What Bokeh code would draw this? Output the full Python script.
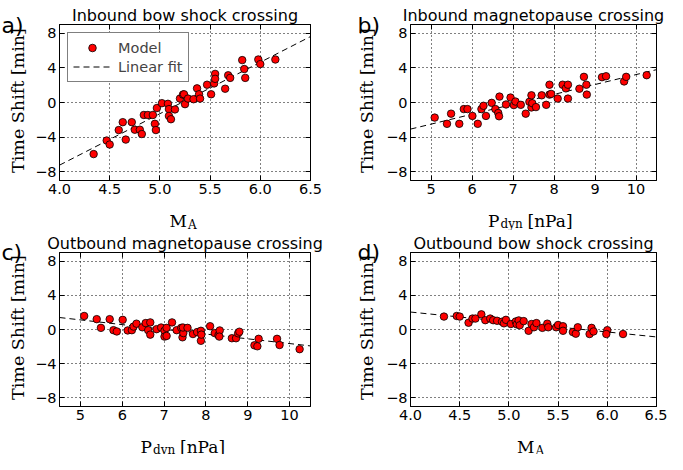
import math
from bokeh.plotting import figure
from bokeh.models import (Range1d, FixedTicker, LinearAxis, Grid, Label, Legend,
                          LegendItem, CustomJSTickFormatter, Title)
from bokeh.layouts import row, column
from bokeh.embed import file_html
from bokeh.resources import INLINE

# ---------------- data ----------------
# a) Inbound bow shock crossing: Alfven Mach number vs time shift
ma_a = [4.34, 4.47, 4.50, 4.59, 4.63, 4.66, 4.72, 4.75, 4.80, 4.82,
        4.84, 4.88, 4.93, 4.95, 4.96, 4.97, 5.02, 5.08, 5.09, 5.09,
        5.11, 5.15, 5.20, 5.23, 5.24, 5.25, 5.28, 5.335, 5.37, 5.39,
        5.40, 5.47, 5.51, 5.54, 5.55, 5.55, 5.65, 5.68, 5.70, 5.82,
        5.84, 5.85, 5.98, 6.00, 6.15]
dt_a = [-5.95, -4.39, -4.85, -3.18, -2.27, -4.28, -2.27, -3.14, -3.14, -3.64,
        -1.44, -1.44, -1.44, -2.46, -3.18, -0.64, -0.08, -0.15, -0.76, -1.55,
        -1.93, -0.80, 0.45, 0.91, 0.95, -0.19, 0.45, 0.38, 1.63, 0.95,
        0.45, 2.05, 0.95, 2.20, 3.30, 2.73, 1.59, 3.14, 2.84, 4.89,
        3.86, 2.84, 4.96, 4.43, 4.96]
fit_a_x = [4.0, 6.5]
fit_a_y = [-7.23, 7.61]

# b) Inbound magnetopause crossing: dynamic pressure vs time shift
pd_b = [5.09, 5.39, 5.49, 5.69, 5.80, 5.89, 6.01, 6.14, 6.23, 6.28,
        6.34, 6.48, 6.57, 6.64, 6.66, 6.67, 6.83, 6.94, 7.02, 7.06,
        7.19, 7.31, 7.40, 7.45, 7.45, 7.47, 7.56, 7.70, 7.81, 7.89,
        7.89, 7.93, 8.09, 8.21, 8.29, 8.34, 8.34, 8.62, 8.73, 8.79,
        8.80, 9.17, 9.27, 9.71, 9.76, 10.26]
dt_b = [-1.74, -2.46, -1.29, -2.46, -0.76, -0.76, -1.55, -2.46, -0.76, -0.38,
        -1.55, -0.04, -0.76, -1.21, -1.59, 0.68, -0.23, 0.57, -0.30, 0.11,
        -0.27, -1.29, 0.08, 0.83, -0.57, -0.08, -0.53, 0.83, -0.27, 2.05,
        0.91, 0.99, 0.45, 2.05, 1.63, 2.05, 0.45, 1.59, 2.96, 2.05,
        0.91, 2.92, 3.03, 2.43, 2.96, 3.15]
fit_b_x = [4.5, 10.5]
fit_b_y = [-3.07, 3.79]

# c) Outbound magnetopause crossing
pd_c = [5.09, 5.39, 5.49, 5.70, 5.79, 5.87, 6.01, 6.13, 6.23, 6.27,
        6.34, 6.48, 6.56, 6.62, 6.67, 6.67, 6.82, 6.93, 7.01, 7.01,
        7.06, 7.06, 7.19, 7.30, 7.41, 7.44, 7.46, 7.45, 7.56, 7.69,
        7.79, 7.88, 7.88, 7.89, 8.10, 8.21, 8.30, 8.33, 8.32, 8.62,
        8.72, 8.77, 8.80, 9.16, 9.23, 9.26, 9.70, 9.76, 10.24]
dt_c = [1.58, 1.21, 0.19, 1.21, -0.08, -0.23, 1.13, -0.11, -0.08, 0.34,
        0.68, 0.26, 0.75, -0.08, 0.83, -0.60, 0.04, 0.23, -0.15, -0.83,
        0.19, -0.75, 0.83, -0.08, 0.19, -0.91, -0.42, 0.23, 0.19, -0.53,
        -0.30, -0.15, -1.32, -0.60, 0.38, -0.42, -0.68, -0.11, -0.83, -1.02,
        -1.02, -0.45, -0.26, -1.85, -1.96, -1.09, -1.09, -1.81, -2.30]
fit_c_x = [4.5, 10.5]
fit_c_y = [1.40, -1.92]

# d) Outbound bow shock crossing
ma_d = [4.34, 4.47, 4.50, 4.59, 4.63, 4.66, 4.72, 4.76, 4.81, 4.84,
        4.88, 4.93, 4.95, 4.97, 5.02, 5.07, 5.08, 5.10, 5.11, 5.15,
        5.20, 5.23, 5.255, 5.28, 5.34, 5.39, 5.40, 5.48, 5.50, 5.55,
        5.55, 5.65, 5.68, 5.70, 5.82, 5.84, 5.86, 6.00, 5.99, 6.16]
dt_d = [1.51, 1.58, 1.51, 0.79, 1.28, 1.28, 1.77, 1.09, 1.28, 1.09,
        1.02, 0.91, 0.72, 1.13, 0.64, 0.94, 0.60, 1.06, 0.49, 0.98,
        -0.15, 0.64, 0.26, 0.75, 0.19, 0.68, 0.26, 0.26, 0.53, 0.38,
        -0.15, -0.30, -0.49, 0.26, -0.53, 0.19, -0.23, -0.08, -0.53, -0.53]
fit_d_x = [4.0, 6.5]
fit_d_y = [2.04, -0.87]

ma_ticks = [4.0, 4.5, 5.0, 5.5, 6.0, 6.5]
ma_tick_labels = ["4.0", "4.5", "5.0", "5.5", "6.0", "6.5"]
pd_ticks = [5, 6, 7, 8, 9, 10]
pd_tick_labels = ["5", "6", "7", "8", "9", "10"]
y_ticks = [-8, -4, 0, 4, 8]
y_tick_labels = ["\u22128", "\u22124", "0", "4", "8"]

titles = ["Inbound bow shock crossing", "Inbound magnetopause crossing",
          "Outbound magnetopause crossing", "Outbound bow shock crossing"]
tags = ["a)", "b)", "c)", "d)"]
y_label = "Time Shift [min]"

SANS = "DejaVu Sans"
SERIF = "DejaVu Serif"
TICK_FS = "14.5px"
TOTAL_W = 667


def strip(w, h):
    s = figure(width=w, height=h, title=None,
               x_range=Range1d(0, w), y_range=Range1d(h, 0),
               min_border=0, min_border_left=0, min_border_right=0,
               min_border_top=0, min_border_bottom=0,
               x_axis_type=None, y_axis_type=None, toolbar_location=None,
               output_backend="svg")
    s.outline_line_color = None
    s.background_fill_color = "white"
    s.border_fill_color = "white"
    return s


def add_label(p, x, y, text, size="15px", font=SANS, align="center",
              baseline="alphabetic", angle=0.0):
    p.add_layout(Label(x=x, y=y, text=text, text_font=font, text_font_size=size,
                       text_color="black", text_align=align,
                       text_baseline=baseline, angle=angle))


def main_fig(xs, ys, fx, fy, xr, xticks, xlabels, title, width, top_h, frame_h,
             mbl, mbr, mbb, legend=False):
    p = figure(width=width, height=top_h + frame_h + mbb,
               x_range=Range1d(xr[0], xr[1]), y_range=Range1d(-9, 9),
               output_backend="svg", toolbar_location=None,
               x_axis_type=None, y_axis_type=None,
               min_border_left=mbl, min_border_right=mbr,
               min_border_top=top_h, min_border_bottom=mbb)
    p.title = Title(text=title, align="center", text_font=SANS,
                    text_font_size="16px", text_font_style="normal",
                    text_color="black", standoff=0, offset=0)
    p.outline_line_color = "black"
    p.outline_line_width = 1
    p.background_fill_color = "white"
    p.border_fill_color = "white"

    xt = FixedTicker(ticks=xticks, minor_ticks=[])
    yt = FixedTicker(ticks=y_ticks, minor_ticks=[])
    common = dict(axis_line_color="black", major_tick_line_color="black",
                  major_tick_in=5, major_tick_out=0, minor_tick_in=0,
                  minor_tick_out=0, major_label_text_font=SANS,
                  major_label_text_color="black")
    below = LinearAxis(ticker=xt, major_label_overrides=dict(zip(xticks, xlabels)),
                       major_label_standoff=3, major_label_text_font_size=TICK_FS,
                       **common)
    left = LinearAxis(ticker=yt, major_label_overrides=dict(zip(y_ticks, y_tick_labels)),
                      major_label_standoff=3, major_label_text_font_size=TICK_FS,
                      **common)
    p.add_layout(below, "below")
    p.add_layout(left, "left")
    above = LinearAxis(ticker=xt, formatter=CustomJSTickFormatter(code="return ''"),
                       major_label_standoff=0, major_label_text_font_size="0px",
                       **common)
    right = LinearAxis(ticker=yt, formatter=CustomJSTickFormatter(code="return ''"),
                       major_label_standoff=0, major_label_text_font_size="0px",
                       **common)
    p.add_layout(above, "above")
    p.add_layout(right, "right")

    gkw = dict(grid_line_color="black", grid_line_dash="1 3", grid_line_width=1)
    p.add_layout(Grid(dimension=0, ticker=xt, **gkw))
    p.add_layout(Grid(dimension=1, ticker=yt, **gkw))

    ln = p.line(fx, fy, line_color="black", line_width=1, line_dash="6 4")
    sc = p.scatter(xs, ys, marker="circle", size=7.5, fill_color="#ff0000",
                   line_color="black", line_width=0.8)

    if legend:
        leg = Legend(items=[LegendItem(label="Model", renderers=[sc]),
                            LegendItem(label="Linear fit", renderers=[ln])],
                     location="top_left", margin=8, padding=5, spacing=0,
                     glyph_width=38, glyph_height=19, label_height=19,
                     label_standoff=7, label_text_font=SANS,
                     label_text_font_size="14.5px",
                     border_line_color="black", border_line_width=1,
                     background_fill_color="white", background_fill_alpha=1)
        p.add_layout(leg)
    return p


def panel(xs, ys, fx, fy, xr, xticks, xlabels, title, tag, legend,
          strip_w, tag_x, ylab_x, mbl, frame_w, mbr, top_h, frame_h, mbb, tag_base):
    main_w = mbl + frame_w + mbr
    total_h = top_h + frame_h + mbb
    ls = strip(strip_w, total_h)
    add_label(ls, tag_x, tag_base, tag, size="22px", align="left")
    add_label(ls, ylab_x, top_h + frame_h / 2.0 - 2, y_label, size="17.5px",
              font=SERIF, baseline="middle", angle=math.pi / 2)
    mf = main_fig(xs, ys, fx, fy, xr, xticks, xlabels, title, main_w, top_h,
                  frame_h, mbl, mbr, mbb, legend=legend)
    return row(ls, column(mf))


def xlabel(s, cx, base, kind):
    if kind == "ma":
        add_label(s, cx + 2, base, "M", size="17px", font=SERIF, align="right")
        add_label(s, cx + 3, base + 4, "A", size="12px", font=SERIF, align="left")
    else:
        add_label(s, cx - 33, base, "P", size="17px", font=SERIF, align="right")
        add_label(s, cx - 32, base + 3, "dyn", size="12px", font=SERIF, align="left")
        add_label(s, cx - 5, base, "[nPa]", size="17px", font=SERIF, align="left")


# horizontal layout: left panel strip 28 + (31 + 251 + 42); right panel strip 31 + (25 + 248 + 11)
left_cx = 28 + 31 + 251 / 2.0
right_cx = 28 + 31 + 251 + 42 + 31 + 25 + 248 / 2.0

pa = panel(ma_a, dt_a, fit_a_x, fit_a_y, (4.0, 6.5), ma_ticks, ma_tick_labels,
           titles[0], tags[0], True, 28, 1, 17, 31, 251, 42, 24, 156, 20, 25)
pb = panel(pd_b, dt_b, fit_b_x, fit_b_y, (4.5, 10.5), pd_ticks, pd_tick_labels,
           titles[1], tags[1], False, 31, 5, 14, 25, 248, 11, 24, 156, 20, 25)
pc = panel(pd_c, dt_c, fit_c_x, fit_c_y, (4.5, 10.5), pd_ticks, pd_tick_labels,
           titles[2], tags[2], False, 28, 1, 17, 31, 251, 42, 22, 154, 20, 22)
pdd = panel(ma_d, dt_d, fit_d_x, fit_d_y, (4.0, 6.5), ma_ticks, ma_tick_labels,
            titles[3], tags[3], False, 31, 5, 14, 25, 248, 11, 22, 154, 20, 22)

# x-axis label strips, one per row (row 1: 200 + 30, row 2: 196 + 28 -> 454)
xs1 = strip(TOTAL_W, 30)
xlabel(xs1, left_cx, 20, "ma")
xlabel(xs1, right_cx, 20, "pd")
xs2 = strip(TOTAL_W, 28)
xlabel(xs2, left_cx, 20, "pd")
xlabel(xs2, right_cx, 20, "ma")

layout = column(row(pa, pb), xs1, row(pc, pdd), xs2)

with open("out.html", "w") as f:
    f.write(file_html(layout, INLINE))
